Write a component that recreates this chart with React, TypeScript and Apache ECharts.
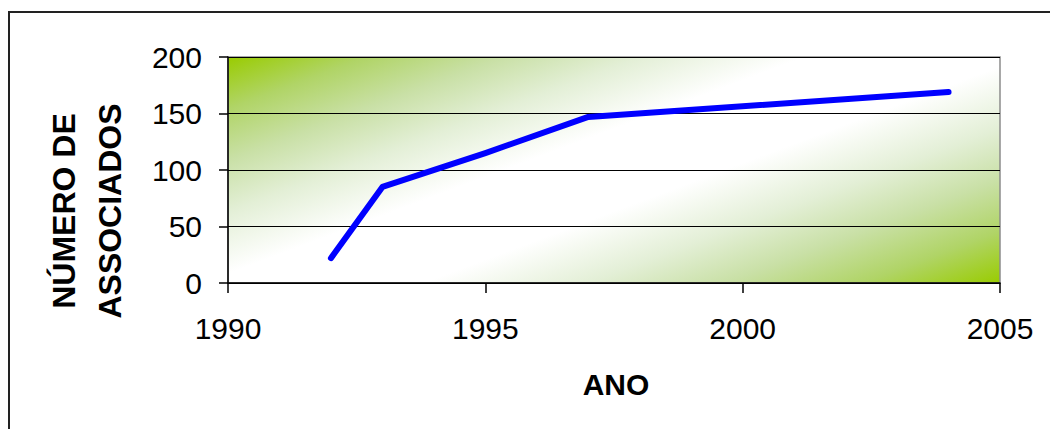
import React, { useEffect, useRef } from "react";
import * as echarts from "echarts";

// Members per year
const years = [1992, 1993, 1995, 1997, 2004];
const members = [22, 85, 115, 147, 169];

const xTicks = { min: 1990, max: 2005, interval: 5 };
const yTicks = { min: 0, max: 200, interval: 50 };

const xTitle = "ANO";
const yTitle = "NÚMERO DE\nASSOCIADOS";

const FONT = "'Liberation Sans', Arial, sans-serif";

export default function App() {
  const ref = useRef<HTMLDivElement>(null);

  useEffect(() => {
    if (!ref.current) return;
    const chart = echarts.init(ref.current, null, { renderer: "svg" });

    const seriesData = years.map((y, i) => [y, members[i]]);

    chart.setOption({
      animation: false,
      backgroundColor: "#ffffff",
      grid: {
        left: 228,
        top: 57,
        right: 50,
        bottom: 146,
        show: true,
        borderColor: "#8c8c8c",
        borderWidth: 1.5,
        // green corners fading to a white diagonal band
        backgroundColor: {
          type: "linear",
          x: 0,
          y: 0,
          x2: 1.107,
          y2: 0.863,
          colorStops: [
            { offset: 0, color: "#99cc00" },
            { offset: 0.1, color: "#b0d466" },
            { offset: 0.2, color: "#c9e0a6" },
            { offset: 0.3, color: "#e3efd6" },
            { offset: 0.42, color: "#ffffff" },
            { offset: 0.58, color: "#ffffff" },
            { offset: 0.7, color: "#e3efd6" },
            { offset: 0.8, color: "#c9e0a6" },
            { offset: 0.9, color: "#b0d466" },
            { offset: 1, color: "#99cc00" },
          ],
        },
      },
      xAxis: {
        type: "value",
        min: xTicks.min,
        max: xTicks.max,
        interval: xTicks.interval,
        axisLine: { show: true, lineStyle: { color: "#000", width: 1.5 } },
        axisTick: { show: true, length: 10, lineStyle: { color: "#000", width: 1.5 } },
        splitLine: { show: false },
        axisLabel: {
          color: "#000",
          fontFamily: FONT,
          fontSize: 30,
          margin: 30,
          formatter: (v: number) => String(v),
        },
      },
      yAxis: {
        type: "value",
        min: yTicks.min,
        max: yTicks.max,
        interval: yTicks.interval,
        axisLine: { show: true, lineStyle: { color: "#000", width: 1.5 } },
        axisTick: { show: true, length: 9, lineStyle: { color: "#000", width: 1.5 } },
        splitLine: { show: true, lineStyle: { color: "#000", width: 1 } },
        axisLabel: {
          color: "#000",
          fontFamily: FONT,
          fontSize: 30,
          margin: 26,
        },
      },
      series: [
        {
          type: "line",
          data: seriesData,
          showSymbol: false,
          symbol: "none",
          lineStyle: { color: "#0000ff", width: 6, cap: "round", join: "round" },
        },
      ],
      graphic: [
        {
          type: "rect",
          shape: { x: 9, y: 12, width: 1100, height: 500 },
          style: { fill: "none", stroke: "#222", lineWidth: 2 },
          silent: true,
        },
        {
          type: "text",
          x: 616,
          y: 384,
          style: {
            text: xTitle,
            fontFamily: FONT,
            fontSize: 30,
            fontWeight: "bold",
            fill: "#000",
            align: "center",
            verticalAlign: "middle",
          },
        },
        {
          type: "text",
          x: 87,
          y: 211,
          rotation: Math.PI / 2,
          style: {
            text: yTitle,
            fontFamily: FONT,
            fontSize: 32,
            fontWeight: "bold",
            fill: "#000",
            align: "center",
            verticalAlign: "middle",
            lineHeight: 46,
          },
        },
      ],
    });

    return () => chart.dispose();
  }, []);

  return (
    <div
      ref={ref}
      style={{ position: "absolute", left: 0, top: 0, width: 1050, height: 429 }}
    />
  );
}
